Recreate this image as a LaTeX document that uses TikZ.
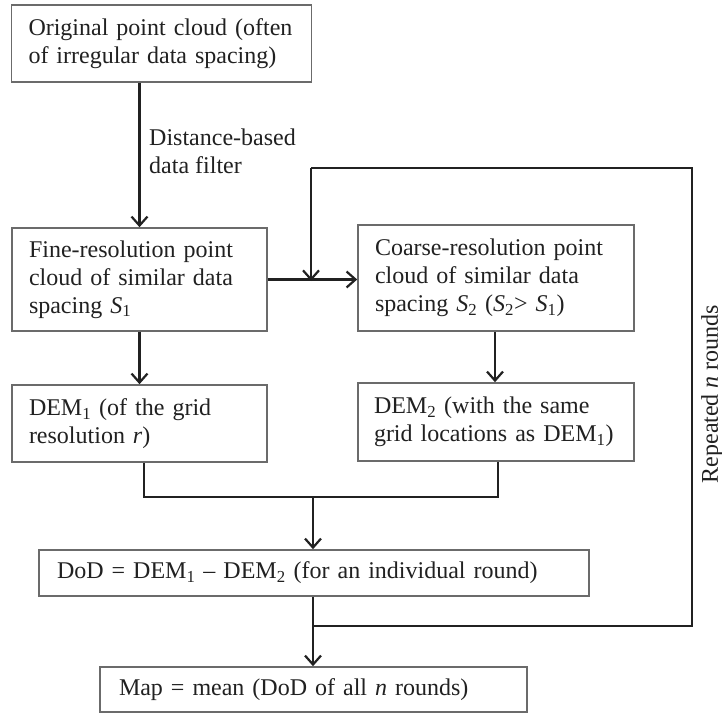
\documentclass[tikz,border=0pt]{standalone}
\usepackage{fontspec}
\setmainfont{Liberation Serif}
\usetikzlibrary{arrows.meta}
\definecolor{boxline}{gray}{0.42}
\definecolor{ink}{gray}{0.13}
\begin{document}
\begin{tikzpicture}[x=1pt,y=-1pt,
  box/.style={draw=boxline,line width=1.6pt,rectangle,align=left,text=ink,
    font=\fontsize{24}{28}\selectfont,anchor=center,inner ysep=0pt},
  conn/.style={draw=ink,line width=2.2pt},
  arr/.style={conn,-{Straight Barb[length=9pt,width=16pt]}},
  lbl/.style={text=ink,font=\fontsize{24}{28}\selectfont,align=left,inner sep=0pt}]
\useasboundingbox (0,0) rectangle (722,715);
\fill[white] (0,0) rectangle (722,715);

\node[box,minimum width=300pt,minimum height=77pt,text width=266pt,inner xsep=17pt] (orig) at (161.5,43.5)
  {Original point cloud (often\\of irregular data spacing)};
\node[box,minimum width=255pt,minimum height=103pt,text width=221pt,inner xsep=17pt] (fine) at (139.5,279.5)
  {Fine-resolution point\\cloud of similar data\\spacing \textit{S}\textsubscript{1}};
\node[box,minimum width=276pt,minimum height=106pt,text width=242pt,inner xsep=17pt] (coarse) at (496,278)
  {Coarse-resolution point\\cloud of similar data\\spacing \textit{S}\textsubscript{2} (\textit{S}\textsubscript{2}> \textit{S}\textsubscript{1})};
\node[box,minimum width=255pt,minimum height=77pt,text width=221pt,inner xsep=17pt] (dem1) at (139.5,423.5)
  {DEM\textsubscript{1} (of the grid\\resolution \textit{r})};
\node[box,minimum width=276pt,minimum height=78pt,text width=244pt,inner xsep=16pt] (dem2) at (496,422)
  {DEM\textsubscript{2} (with the same\\grid locations as DEM\textsubscript{1})};
\node[box,minimum width=550pt,minimum height=46pt,text width=514pt,inner xsep=18pt] (dod) at (314,573)
  {DoD = DEM\textsubscript{1} -- DEM\textsubscript{2} (for an individual round)};
\node[box,minimum width=427pt,minimum height=45pt,text width=389pt,inner xsep=19pt] (map) at (313.5,689.5)
  {Map = mean (DoD of all \textit{n} rounds)};

\node[lbl,anchor=west] (filt) at (149,151) {Distance-based\\data filter};
\node[lbl,rotate=90] (rep) at (712,394) {Repeated \textit{n} rounds};

% connectors
\draw[arr] (fine.north |- orig.south) -- (fine.north);
\draw[arr] (fine.east) -- (fine.east -| coarse.west);
\draw[arr] (fine.south) -- (dem1.north);
\draw[arr] (coarse.south -| 495,0) -- (dem2.north -| 495,0);
\coordinate (m1) at (144,497);
\coordinate (m2) at (498,497);
\coordinate (mc) at (313,497);
\draw[conn] (dem1.south -| m1) -- (m1) -- (m2) -- (dem2.south -| m2);
\draw[arr] (mc) -- (dod.north -| mc);
\draw[arr] (dod.south -| mc) -- (map.north -| mc);
\coordinate (f0) at (313,626);
\coordinate (f1) at (692,626);
\coordinate (f2) at (692,168);
\coordinate (f3) at (311,168);
\coordinate (j) at (311,281);
\draw[conn] (f0) -- (f1) -- (f2) -- (f3);
\draw[arr] (f3) -- (j);
\end{tikzpicture}
\end{document}
